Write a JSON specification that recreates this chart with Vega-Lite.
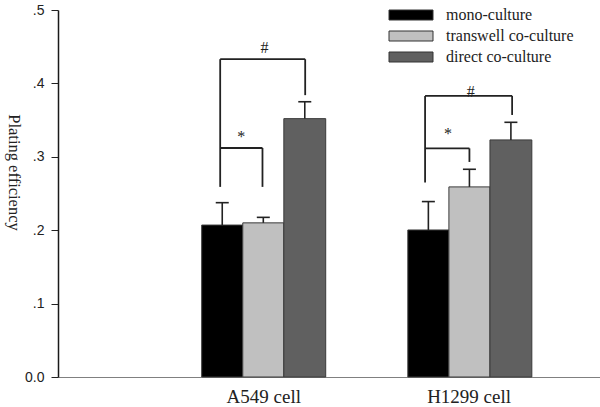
{
  "$schema": "https://vega.github.io/schema/vega-lite/v6.json",
  "width": 542,
  "height": 367,
  "autosize": {"type": "none"},
  "padding": {"left": 58, "top": 10, "right": 0, "bottom": 30},
  "background": "white",
  "config": {"view": {"stroke": null}, "font": "Liberation Serif"},
  "datasets": {
    "bars": [
      {"cell": "A549 cell", "group": "mono-culture", "x0": 3.5, "x1": 4.5, "xc": 4.0, "value": 0.207, "upper": 0.2375},
      {"cell": "A549 cell", "group": "transwell co-culture", "x0": 4.5, "x1": 5.5, "xc": 5.0, "value": 0.210, "upper": 0.2175},
      {"cell": "A549 cell", "group": "direct co-culture", "x0": 5.5, "x1": 6.52, "xc": 6.01, "value": 0.352, "upper": 0.375},
      {"cell": "H1299 cell", "group": "mono-culture", "x0": 8.52, "x1": 9.52, "xc": 9.02, "value": 0.2003, "upper": 0.239},
      {"cell": "H1299 cell", "group": "transwell co-culture", "x0": 9.52, "x1": 10.52, "xc": 10.02, "value": 0.259, "upper": 0.283},
      {"cell": "H1299 cell", "group": "direct co-culture", "x0": 10.52, "x1": 11.54, "xc": 11.03, "value": 0.323, "upper": 0.347}
    ],
    "brackets": [
      {"xa": 3.95, "xb": 3.95, "ya": 0.259, "yb": 0.433},
      {"xa": 3.95, "xb": 4.98, "ya": 0.312, "yb": 0.312},
      {"xa": 4.98, "xb": 4.98, "ya": 0.312, "yb": 0.259},
      {"xa": 3.95, "xb": 6.02, "ya": 0.433, "yb": 0.433},
      {"xa": 6.02, "xb": 6.02, "ya": 0.433, "yb": 0.384},
      {"xa": 8.94, "xb": 8.94, "ya": 0.265, "yb": 0.383},
      {"xa": 8.94, "xb": 10.02, "ya": 0.3115, "yb": 0.3115},
      {"xa": 10.02, "xb": 10.02, "ya": 0.3115, "yb": 0.293},
      {"xa": 8.94, "xb": 11.06, "ya": 0.383, "yb": 0.383},
      {"xa": 11.06, "xb": 11.06, "ya": 0.383, "yb": 0.357}
    ],
    "signs": [
      {"x": 4.46, "y": 0.3195, "label": "*"},
      {"x": 5.03, "y": 0.4414, "label": "#"},
      {"x": 9.5, "y": 0.3249, "label": "*"},
      {"x": 10.05, "y": 0.3808, "label": "#"}
    ]
  },
  "layer": [
    {
      "data": {"name": "bars"},
      "mark": {"type": "rect", "stroke": "#3a3a3a", "strokeWidth": 1},
      "encoding": {
        "x": {
          "field": "x0", "type": "quantitative",
          "scale": {"domain": [0, 13.2], "nice": false, "zero": false},
          "axis": {
            "values": [5, 10],
            "labelExpr": "datum.value == 5 ? 'A549 cell' : 'H1299 cell'",
            "title": null, "ticks": false, "grid": false,
            "domainColor": "#808080", "domainWidth": 1,
            "labelFont": "Liberation Serif", "labelFontSize": 19,
            "labelColor": "#222222", "labelPadding": 10, "labelFlush": false
          }
        },
        "x2": {"field": "x1"},
        "y": {
          "field": "value", "type": "quantitative",
          "scale": {"domain": [0, 0.5], "nice": false},
          "axis": {
            "values": [0, 0.1, 0.2, 0.3, 0.4, 0.5],
            "labelExpr": "datum.value == 0 ? '0.0' : replace(format(datum.value, '.1f'), '0.', '.')",
            "title": "Plating efficiency", "grid": false,
            "tickSize": 7, "tickColor": "#222222", "tickWidth": 1,
            "domainColor": "#1a1a1a", "domainWidth": 1.5,
            "labelFont": "Liberation Sans", "labelFontSize": 14,
            "labelColor": "#222222", "labelPadding": 7,
            "titleFont": "Liberation Serif", "titleFontSize": 16.5,
            "titleFontWeight": "normal", "titleColor": "#222222",
            "titleAngle": 90, "titleX": -45, "titleY": 162,
            "titleBaseline": "middle", "titleAlign": "center"
          }
        },
        "y2": {"datum": 0},
        "color": {
          "field": "group", "type": "nominal",
          "scale": {
            "domain": ["mono-culture", "transwell co-culture", "direct co-culture"],
            "range": ["#000000", "#c0c0c0", "#606060"]
          },
          "legend": {
            "orient": "none", "legendX": 345, "legendY": -3,
            "title": null,
            "symbolType": "M-4,-0.909H4V0.909H-4Z",
            "symbolSize": 121,
            "symbolStrokeColor": "#333333", "symbolStrokeWidth": 1,
            "symbolOpacity": 1,
            "labelFont": "Liberation Serif", "labelFontSize": 16,
            "labelColor": "#222222", "labelOffset": 27, "rowPadding": 5
          }
        }
      }
    },
    {
      "data": {"name": "bars"},
      "mark": {"type": "rule", "color": "#222222", "strokeWidth": 1.6},
      "encoding": {
        "x": {"field": "xc", "type": "quantitative"},
        "y": {"field": "value", "type": "quantitative"},
        "y2": {"field": "upper"}
      }
    },
    {
      "data": {"name": "bars"},
      "mark": {"type": "tick", "orient": "horizontal", "color": "#222222", "size": 13, "thickness": 1.6, "opacity": 1},
      "encoding": {
        "x": {"field": "xc", "type": "quantitative"},
        "y": {"field": "upper", "type": "quantitative"}
      }
    },
    {
      "data": {"name": "brackets"},
      "mark": {"type": "rule", "color": "#222222", "strokeWidth": 1.8},
      "encoding": {
        "x": {"field": "xa", "type": "quantitative"},
        "x2": {"field": "xb"},
        "y": {"field": "ya", "type": "quantitative"},
        "y2": {"field": "yb"}
      }
    },
    {
      "data": {"name": "signs"},
      "mark": {"type": "text", "font": "Liberation Serif", "fontSize": 16, "color": "#222222", "baseline": "alphabetic", "align": "center"},
      "encoding": {
        "x": {"field": "x", "type": "quantitative"},
        "y": {"field": "y", "type": "quantitative"},
        "text": {"field": "label"}
      }
    }
  ]
}
